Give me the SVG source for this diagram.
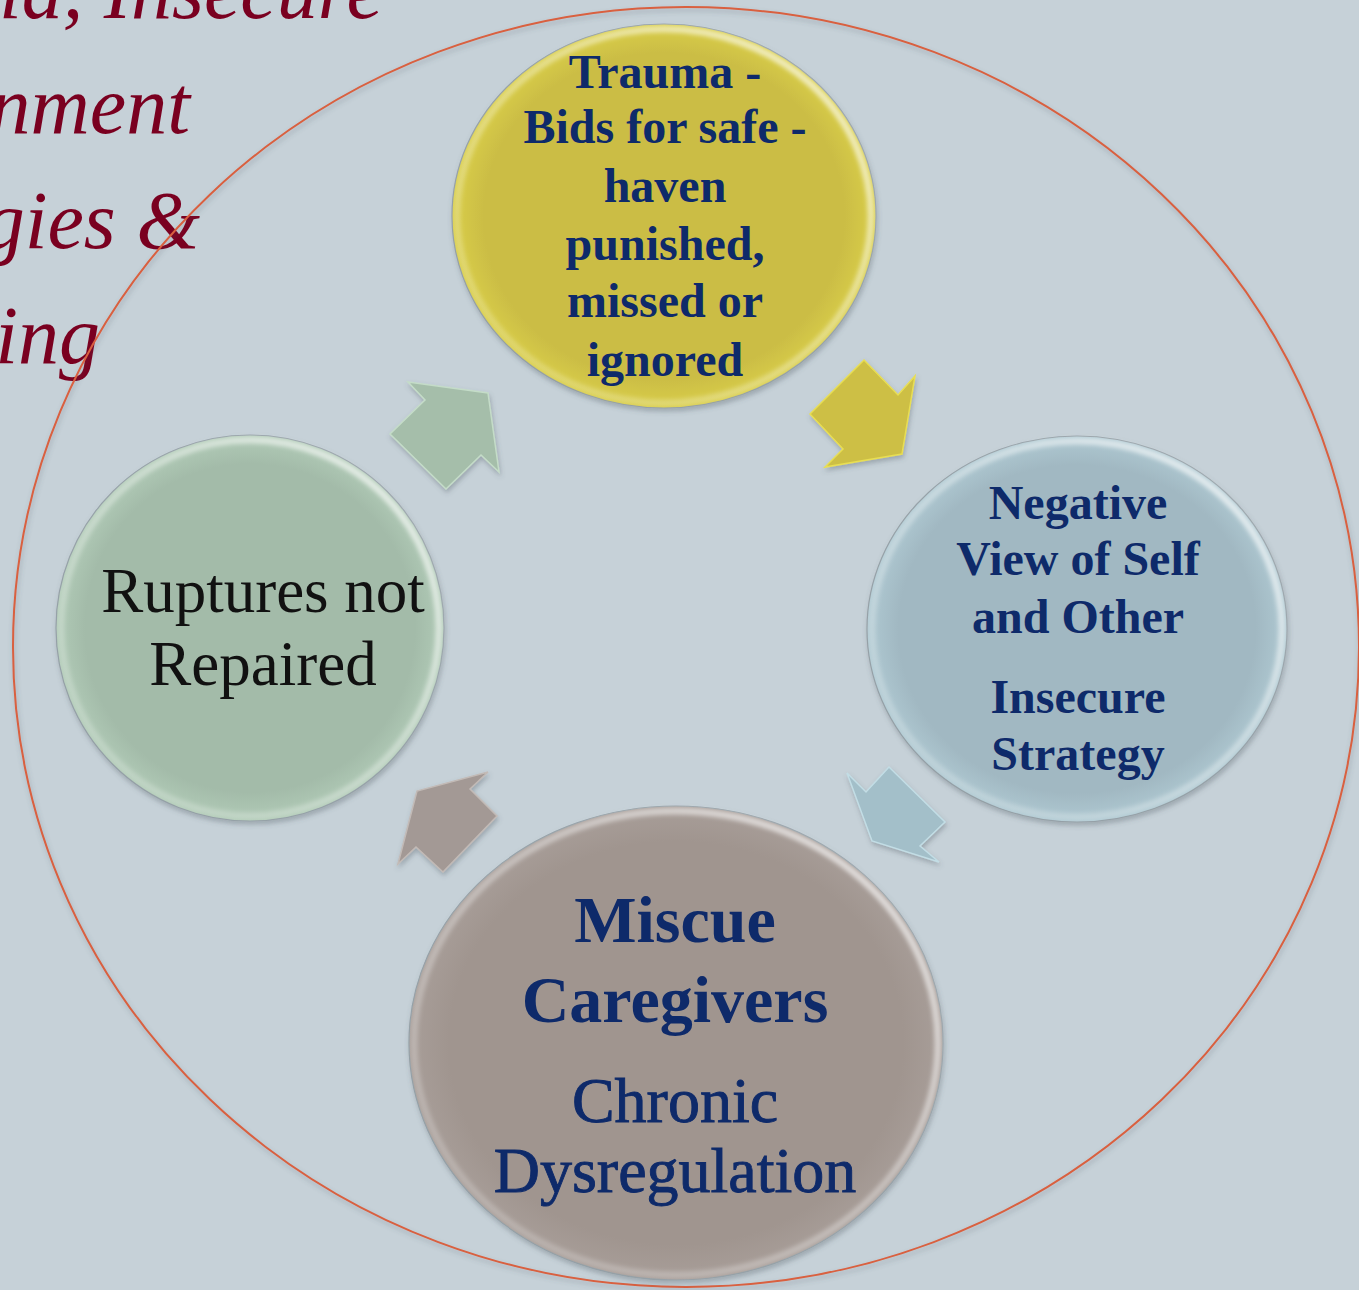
<svg xmlns="http://www.w3.org/2000/svg" width="1359" height="1290" viewBox="0 0 1359 1290">
  <defs>
    <filter id="soft" x="-10%" y="-10%" width="120%" height="120%">
      <feDropShadow dx="1" dy="3" stdDeviation="2.5" flood-color="#4a5560" flood-opacity="0.35"/>
    </filter>
    <filter id="rimBlur" x="-10%" y="-10%" width="120%" height="120%">
      <feGaussianBlur stdDeviation="2.2"/>
    </filter>
    <linearGradient id="rimLight" x1="0" y1="1" x2="1" y2="0">
      <stop offset="0" stop-color="#ffffff" stop-opacity="0.15"/>
      <stop offset="0.55" stop-color="#ffffff" stop-opacity="0.35"/>
      <stop offset="1" stop-color="#ffffff" stop-opacity="0.75"/>
    </linearGradient>
    <radialGradient id="gYellow" cx="0.5" cy="0.5" r="0.5">
      <stop offset="0.85" stop-color="#CBBD45"/>
      <stop offset="1" stop-color="#D9CE48"/>
    </radialGradient>
    <radialGradient id="gBlue" cx="0.5" cy="0.5" r="0.5">
      <stop offset="0.85" stop-color="#A1B8C2"/>
      <stop offset="1" stop-color="#AFC9D2"/>
    </radialGradient>
    <radialGradient id="gGreen" cx="0.5" cy="0.5" r="0.5">
      <stop offset="0.85" stop-color="#A3BBA9"/>
      <stop offset="1" stop-color="#B1CBB7"/>
    </radialGradient>
    <radialGradient id="gMauve" cx="0.5" cy="0.5" r="0.5">
      <stop offset="0.85" stop-color="#A0958F"/>
      <stop offset="1" stop-color="#A89E99"/>
    </radialGradient>
  </defs>
  <style>
    .title { font-family: "Liberation Serif", "DejaVu Serif", serif; font-style: italic; font-size: 82px; fill: #7A0020; }
    .lbl { font-family: "Liberation Serif", "DejaVu Serif", serif; text-anchor: middle; fill: #0E2A6A; }
    .b48 { font-size: 48px; font-weight: bold; }
    .b66 { font-size: 66px; font-weight: bold; }
    .r64 { font-size: 64px; stroke: #0E2A6A; stroke-width: 0.9; }
    .dark { fill: #111111; font-size: 63px; }
    .edge { stroke: #8F9BA2; stroke-width: 1.2; }
    .rim { fill: none; stroke: url(#rimLight); stroke-width: 7; filter: url(#rimBlur); }
    .arrow { stroke-width: 1.5; stroke-linejoin: miter; filter: url(#soft); }
  </style>

  <!-- slide background -->
  <rect width="1359" height="1290" fill="#C6D1D8"/>

  <!-- heading, running off the left edge -->
  <g id="heading">
    <text class="title" x="383" y="18" text-anchor="end">ia, Insecure</text>
    <text class="title" x="190" y="133" text-anchor="end">nment</text>
    <text class="title" x="200" y="248" text-anchor="end">gies &amp;</text>
    <text class="title" x="100" y="363" text-anchor="end">ing</text>
  </g>

  <!-- outer cycle ring -->
  <ellipse id="ring" cx="686" cy="647" rx="673" ry="640" fill="none" stroke="#D9603F" stroke-width="2" filter="url(#soft)"/>

  <!-- cycle arrows -->
  <g id="connectors">
    <polygon class="arrow" fill="#A5BEAA" stroke="#C4DCC8" points="408,382 425,400 390,434 446,489 481,455 499,472 488,393"/>
    <polygon class="arrow" fill="#CDBF45" stroke="#E8DE52" points="864,360 898,395 915,376 902,454 825,467 843,449 810,414"/>
    <polygon class="arrow" fill="#A3BFC9" stroke="#C2DDE5" points="847,773 866,792 889,767 945,822 920,846 939,862 872,841"/>
    <polygon class="arrow" fill="#A39995" stroke="#C2BAB6" points="488,772 470,789 497,816 443,872 416,847 398,864 417,791"/>
  </g>

  <!-- Trauma node -->
  <g id="node-trauma">
    <ellipse cx="664" cy="216" rx="212" ry="192" fill="url(#gYellow)" class="edge" filter="url(#soft)"/>
    <ellipse cx="664" cy="216" rx="207" ry="187" class="rim"/>
    <text class="lbl b48" x="665" y="88">Trauma -</text>
    <text class="lbl b48" x="665" y="143">Bids for safe -</text>
    <text class="lbl b48" x="665" y="202">haven</text>
    <text class="lbl b48" x="665" y="260">punished,</text>
    <text class="lbl b48" x="665" y="317">missed or</text>
    <text class="lbl b48" x="665" y="376">ignored</text>
  </g>

  <!-- Negative view node -->
  <g id="node-negative-view">
    <ellipse cx="1077" cy="629" rx="210" ry="193" fill="url(#gBlue)" class="edge" filter="url(#soft)"/>
    <ellipse cx="1077" cy="629" rx="205" ry="188" class="rim"/>
    <text class="lbl b48" x="1078" y="519">Negative</text>
    <text class="lbl b48" x="1078" y="575">View of Self</text>
    <text class="lbl b48" x="1078" y="633">and Other</text>
    <text class="lbl b48" x="1078" y="713">Insecure</text>
    <text class="lbl b48" x="1078" y="770">Strategy</text>
  </g>

  <!-- Miscue caregivers node -->
  <g id="node-miscue">
    <ellipse cx="676" cy="1043" rx="267" ry="237" fill="url(#gMauve)" class="edge" filter="url(#soft)"/>
    <ellipse cx="676" cy="1043" rx="262" ry="232" class="rim"/>
    <text class="lbl b66" x="675" y="942">Miscue</text>
    <text class="lbl b66" x="675" y="1022">Caregivers</text>
    <text class="lbl r64" x="675" y="1122">Chronic</text>
    <text class="lbl r64" x="675" y="1192">Dysregulation</text>
  </g>

  <!-- Ruptures node -->
  <g id="node-ruptures">
    <ellipse cx="250" cy="628" rx="194" ry="193" fill="url(#gGreen)" class="edge" filter="url(#soft)"/>
    <ellipse cx="250" cy="628" rx="189" ry="188" class="rim"/>
    <text class="lbl dark" x="263" y="612">Ruptures not</text>
    <text class="lbl dark" x="263" y="685">Repaired</text>
  </g>
</svg>
